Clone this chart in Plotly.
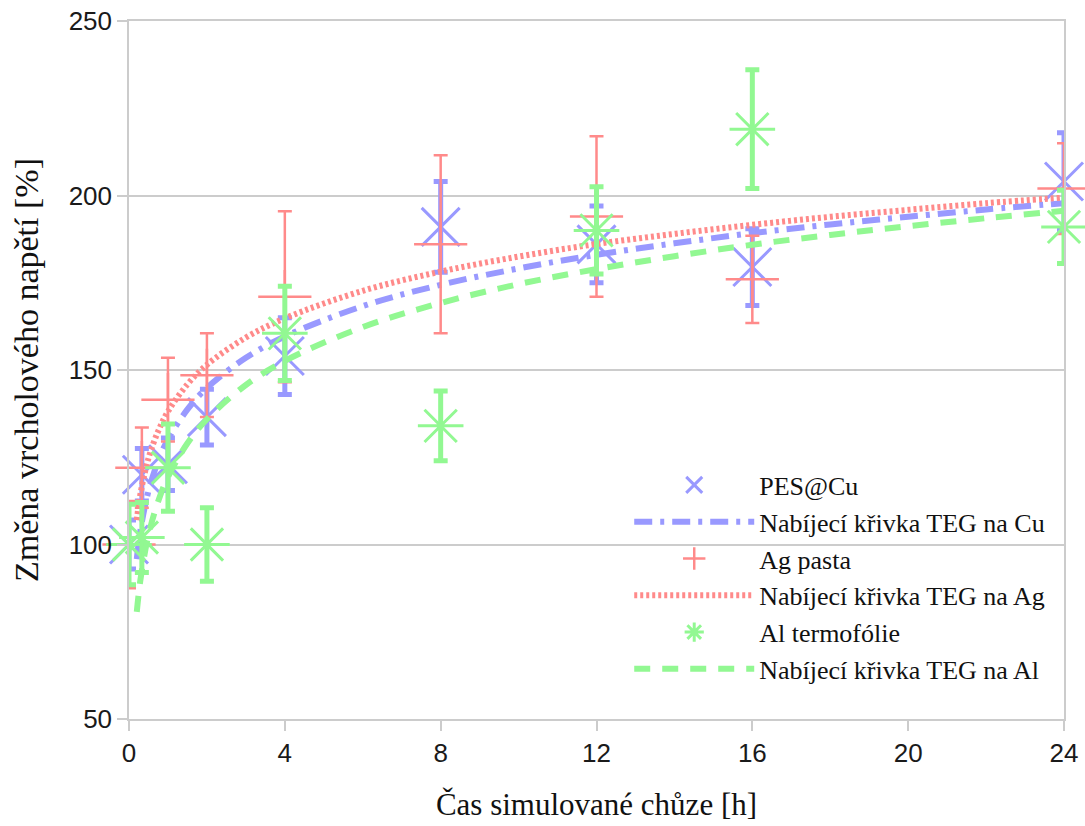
import plotly.graph_objects as go

# Measured samples: time of simulated walking [h] and relative peak voltage [%]
t_meas = [0, 0.33, 1, 2, 4, 8, 12, 16, 24]

cu_val = [100, 120, 123, 136.5, 154, 191, 186, 179.5, 204]
cu_err = [7, 7.5, 7.5, 8, 11, 13, 11, 11, 14]

ag_val = [100, 122, 141.5, 148.5, 171, 186, 194, 176, 202]
ag_err = [12.5, 11.5, 12, 12, 24.5, 25.5, 23, 12.5, 13]

al_val = [100, 102, 122, 100, 160.5, 134, 190, 219, 191]
al_err = [11.5, 10, 12.5, 10.5, 13.5, 10, 12.5, 17, 10.5]

# Charging curves (TEG), sampled along the time axis
t_curve = [0.2, 0.3, 0.5, 0.75, 1, 1.5, 2, 3, 4, 6, 8, 10, 12, 14, 16, 18, 20, 22, 24]
cu_curve = [95.8, 104.5, 115.3, 124.0, 130.1, 138.7, 144.9, 153.5, 159.6, 168.3,
            174.4, 179.1, 183.0, 186.3, 189.2, 191.7, 193.9, 196.0, 197.8]
ag_curve = [107.0, 114.9, 124.7, 132.5, 138.1, 145.9, 151.5, 159.3, 164.8, 172.7,
            178.2, 182.5, 186.1, 189.0, 191.6, 193.9, 195.9, 197.8, 199.4]
al_curve = [80.7, 90.4, 102.7, 112.4, 119.3, 129.0, 135.9, 145.7, 152.6, 162.3,
            169.2, 174.6, 178.9, 182.6, 185.9, 188.7, 191.2, 193.5, 195.6]

x_ticks = [0, 4, 8, 12, 16, 20, 24]
y_ticks = [50, 100, 150, 200, 250]

BLUE = "#9999ff"
RED = "#ff8a8a"
GREEN = "#92f892"
GRID = "#cccccc"

fig = go.Figure()


def points(name, y, err, color, symbol, thick, lw):
    return go.Scatter(
        x=t_meas, y=y, name=name, mode="markers",
        marker=dict(symbol=symbol, size=38, color=color,
                    line=dict(color=color, width=lw)),
        error_y=dict(type="data", array=err, visible=True, color=color,
                     thickness=thick, width=7),
        cliponaxis=False,
    )


def curve(name, y, color, dash, width):
    return go.Scatter(
        x=t_curve, y=y, name=name, mode="lines", line_shape="spline",
        line=dict(color=color, width=width, dash=dash),
        cliponaxis=False,
    )


fig.add_trace(points("PES@Cu", cu_val, cu_err, BLUE, "x-thin", 5, 3))
fig.add_trace(curve("Nabíjecí křivka TEG na Cu", cu_curve, BLUE, "18px,8px,4px,8px", 6))
fig.add_trace(points("Ag pasta", ag_val, ag_err, RED, "cross-thin", 2.5, 2.5))
fig.add_trace(curve("Nabíjecí křivka TEG na Ag", ag_curve, RED, "3px,3px", 6))
fig.add_trace(points("Al termofólie", al_val, al_err, GREEN, "asterisk", 5, 3))
fig.add_trace(curve("Nabíjecí křivka TEG na Al", al_curve, GREEN, "16px,12px", 6))

fig.update_layout(
    width=1085, height=826,
    margin=dict(l=129, r=21, t=21, b=107, autoexpand=False),
    paper_bgcolor="white", plot_bgcolor="white",
    showlegend=True,
    legend=dict(
        x=0.535, y=0.369, xanchor="left", yanchor="top",
        bgcolor="rgba(0,0,0,0)", itemwidth=120,
        font=dict(family="Liberation Serif", size=26, color="#111111"),
        tracegroupgap=0,
    ),
    xaxis=dict(
        range=[0, 24], tickvals=x_ticks, ticktext=[str(v) for v in x_ticks],
        showgrid=False, zeroline=False, automargin=False,
        showline=True, mirror=True, linecolor=GRID, linewidth=1.5,
        ticks="outside", ticklen=10, tickcolor=GRID, tickwidth=1.5,
        tickfont=dict(family="Liberation Sans", size=26, color="#1a1a1a"),
        title=dict(text="Čas simulované chůze [h]", standoff=26,
                   font=dict(family="Liberation Serif", size=31, color="#111111")),
    ),
    yaxis=dict(
        range=[50, 250], tickvals=y_ticks, ticktext=[str(v) for v in y_ticks],
        showgrid=True, gridcolor=GRID, gridwidth=1.5, zeroline=False, automargin=False,
        showline=True, mirror=True, linecolor=GRID, linewidth=1.5,
        ticks="outside", ticklen=10, tickcolor=GRID, tickwidth=1.5,
        tickfont=dict(family="Liberation Sans", size=26, color="#1a1a1a"),
        title=dict(text="Změna vrcholového napětí [%]", standoff=20,
                   font=dict(family="Liberation Serif", size=34, color="#111111")),
    ),
)

fig.write_html("out.html")
